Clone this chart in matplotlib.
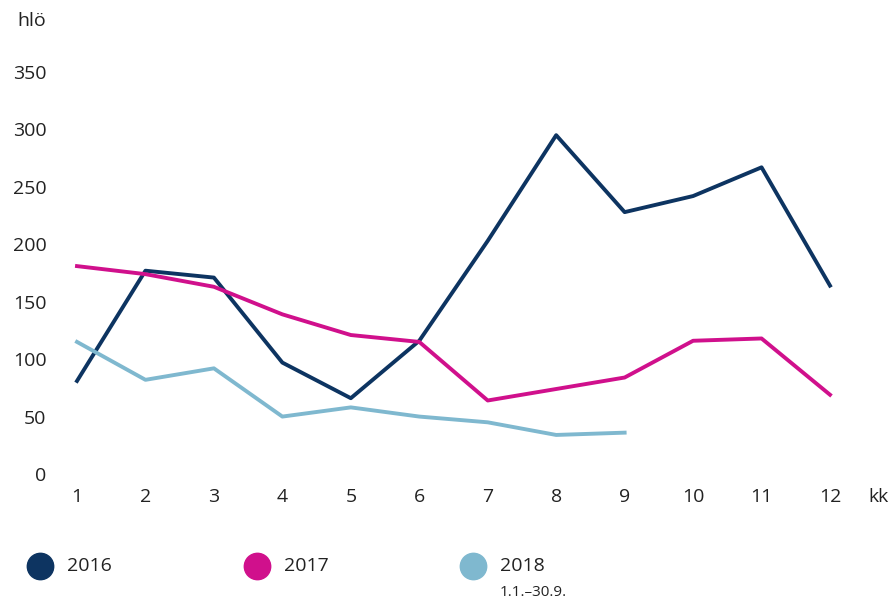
import matplotlib
matplotlib.use("Agg")
import matplotlib.pyplot as plt
from matplotlib.lines import Line2D

# -----------------------------
# Data
# -----------------------------
months = [1, 2, 3, 4, 5, 6, 7, 8, 9, 10, 11, 12]
y2016 = [81, 177, 171, 97, 66, 116, 203, 295, 228, 242, 267, 164]
y2017 = [181, 174, 163, 139, 121, 115, 64, 74, 84, 116, 118, 69]
months_2018 = [1, 2, 3, 4, 5, 6, 7, 8, 9]
y2018 = [115, 82, 92, 50, 58, 50, 45, 34, 36]

series_labels = ["2016", "2017", "2018"]
colors = ["#0d3461", "#d0108c", "#7fb8cf"]
yticks = [0, 50, 100, 150, 200, 250, 300, 350]

plt.rcParams["font.family"] = ["Open Sans", "DejaVu Sans"]
text_color = "#222222"
fs = 14

fig = plt.figure(figsize=(8.91, 6.02), dpi=100)
ax = fig.add_axes([77 / 891, 1 - 474 / 602, (830 - 77) / 891, (474 - 72) / 602])

# drawing order as in the original: 2016 under 2018 under 2017
ax.plot(months, y2016, color=colors[0], lw=2.8, clip_on=False, zorder=1)
ax.plot(months_2018, y2018, color=colors[2], lw=2.8, clip_on=False, zorder=2)
ax.plot(months, y2017, color=colors[1], lw=2.8, clip_on=False, zorder=3)

ax.set_xlim(1, 12)
ax.set_ylim(0, 350)
ax.set_xticks(months)
ax.set_yticks(yticks)
ax.tick_params(length=0, labelsize=fs, colors=text_color)
ax.tick_params(axis="y", pad=22)
ax.tick_params(axis="x", pad=10)
for s in ax.spines.values():
    s.set_visible(False)

# axis unit labels
fig.text(32 / 891, 1 - 21 / 602, "hlö", fontsize=fs, color=text_color,
         ha="center", va="center")
fig.text(878 / 891, 1 - 497 / 602, "kk", fontsize=fs, color=text_color,
         ha="center", va="center")

# -----------------------------
# Legend (manual, below the chart)
# -----------------------------
leg_x = [40, 257, 473]
leg_y = 1 - 566 / 602
for x, lab, c in zip(leg_x, series_labels, colors):
    fig.add_artist(Line2D([x / 891], [leg_y], marker="o", markersize=19,
                          color=c, transform=fig.transFigure, lw=0))
    fig.text((x + 27) / 891, leg_y, lab, fontsize=fs, color=text_color,
             ha="left", va="center")
fig.text(500 / 891, 1 - 593 / 602, "1.1.–30.9.", fontsize=11, color=text_color,
         ha="left", va="center")

fig.savefig("out.png", dpi=100)
